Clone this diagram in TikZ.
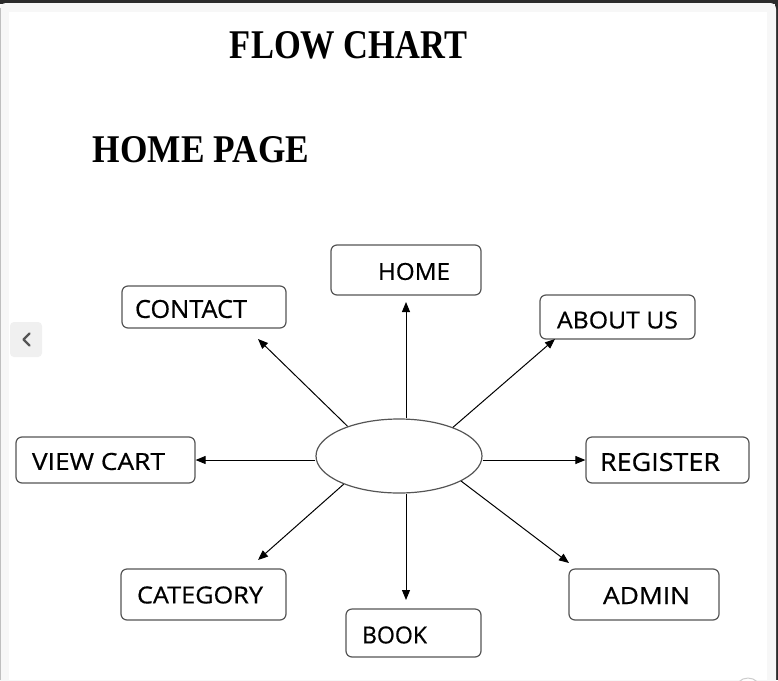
\documentclass[tikz,border=0pt]{standalone}
\usepackage{fontspec}
\setmainfont{Liberation Serif}
\newfontfamily\lblfont[FakeBold=0.6]{Open Sans}
\newfontfamily\ttlfont{Liberation Serif}
\usetikzlibrary{arrows.meta,shapes.geometric}
\definecolor{edgegray}{HTML}{555555}
\definecolor{panelgray}{HTML}{F7F7F7}
\definecolor{darkstrip}{HTML}{2B2B2B}
\definecolor{btngray}{HTML}{F0F0F0}
\tikzset{
  box/.style={draw=edgegray, line width=1.2pt, rounded corners=6pt, fill=white, inner sep=0pt},
  ellbox/.style={draw=edgegray, line width=1.2pt, ellipse, fill=white, inner sep=0pt, minimum width=166pt, minimum height=74pt},
  lbl/.style={inner sep=0pt, text=black},
  ttl/.style={inner sep=0pt, text=black},
  conn/.style={draw=black, line width=1pt, -{Triangle[length=10pt,width=8pt]}}
}
\newcommand{\lbltext}[3]{\resizebox{#1pt}{#2pt}{\lblfont #3}}
\newcommand{\ttltext}[3]{\resizebox{#1pt}{#2pt}{\ttlfont\bfseries #3}}
\begin{document}
\begin{tikzpicture}[x=1pt,y=-1pt]
\useasboundingbox (0,0) rectangle (778,680);
% frame
\fill[white] (0,0) rectangle (778,680);
\fill[darkstrip] (0,0) rectangle (778,4);
\fill[darkstrip] (775,0) rectangle (778,680);
\fill[panelgray, rounded corners=6pt] (0,3) rectangle (776,700);
\draw[color=gray!50, line width=1pt] (0.5,8) -- (0.5,680);
\fill[white] (9,12) rectangle (767,680);
% left button
\fill[btngray, rounded corners=4pt] (10,322) rectangle (42,357);
\draw[edgegray, line width=2.4pt, line cap=round, line join=round] (29.5,333.5) -- (23.5,339.5) -- (29.5,345.5);
% bottom-right circle
\draw[gray!40, line width=1pt, fill=white] (748,691) circle (13);
% titles
\node[ttl] (title) at (348.5,45) {\ttltext{237}{27}{FLOW CHART}};
\node[ttl] (subtitle) at (201,150) {\ttltext{216}{26}{HOME PAGE}};
% center ellipse
\node[ellbox] (ell) at (399,456) {};
% boxes
\node[box, minimum width=150pt, minimum height=50pt] (home) at (406,270) {};
\node[box, minimum width=164pt, minimum height=42pt] (contact) at (204,307) {};
\node[box, minimum width=155pt, minimum height=44pt] (about) at (617.5,317) {};
\node[box, minimum width=179pt, minimum height=46pt] (viewcart) at (105.5,460) {};
\node[box, minimum width=163pt, minimum height=46pt] (register) at (667.5,460) {};
\node[box, minimum width=165pt, minimum height=51pt] (category) at (203.5,594.5) {};
\node[box, minimum width=135pt, minimum height=48pt] (book) at (413.5,633) {};
\node[box, minimum width=150pt, minimum height=51pt] (admin) at (644,594.5) {};
% labels
\node[lbl] (homeL) at (414,271.5) {\lbltext{72}{17}{HOME}};
\node[lbl] (contactL) at (191,309) {\lbltext{112}{18}{CONTACT}};
\node[lbl] (aboutL) at (617.5,320) {\lbltext{121}{17}{ABOUT US}};
\node[lbl] (registerL) at (660,462) {\lbltext{120}{18}{REGISTER}};
\node[lbl] (viewcartL) at (98.5,461.5) {\lbltext{133}{17}{VIEW CART}};
\node[lbl] (categoryL) at (200,595) {\lbltext{126}{17}{CATEGORY}};
\node[lbl] (bookL) at (394.5,635) {\lbltext{65}{17}{BOOK}};
\node[lbl] (adminL) at (646.5,595.5) {\lbltext{87}{17}{ADMIN}};
% arrow tips
\coordinate (tHome) at (406,302);
\coordinate (tContact) at (258,339);
\coordinate (tAbout) at (555,339);
\coordinate (tCategory) at (258,560);
\coordinate (tBook) at (406,600);
\coordinate (tAdmin) at (569,563);
% connectors
\draw[conn] (tHome |- ell.north) -- (tHome);
\draw[conn] (ell.150) -- (tContact);
\draw[conn] (ell.28) -- (tAbout);
\draw[conn] (ell.west |- viewcart.east) -- (viewcart.east);
\draw[conn] (ell.east |- register.west) -- (register.west);
\draw[conn] (ell.207) -- (tCategory);
\draw[conn] (tBook |- ell.south) -- (tBook);
\draw[conn] (ell.338) -- (tAdmin);
\end{tikzpicture}
\end{document}
